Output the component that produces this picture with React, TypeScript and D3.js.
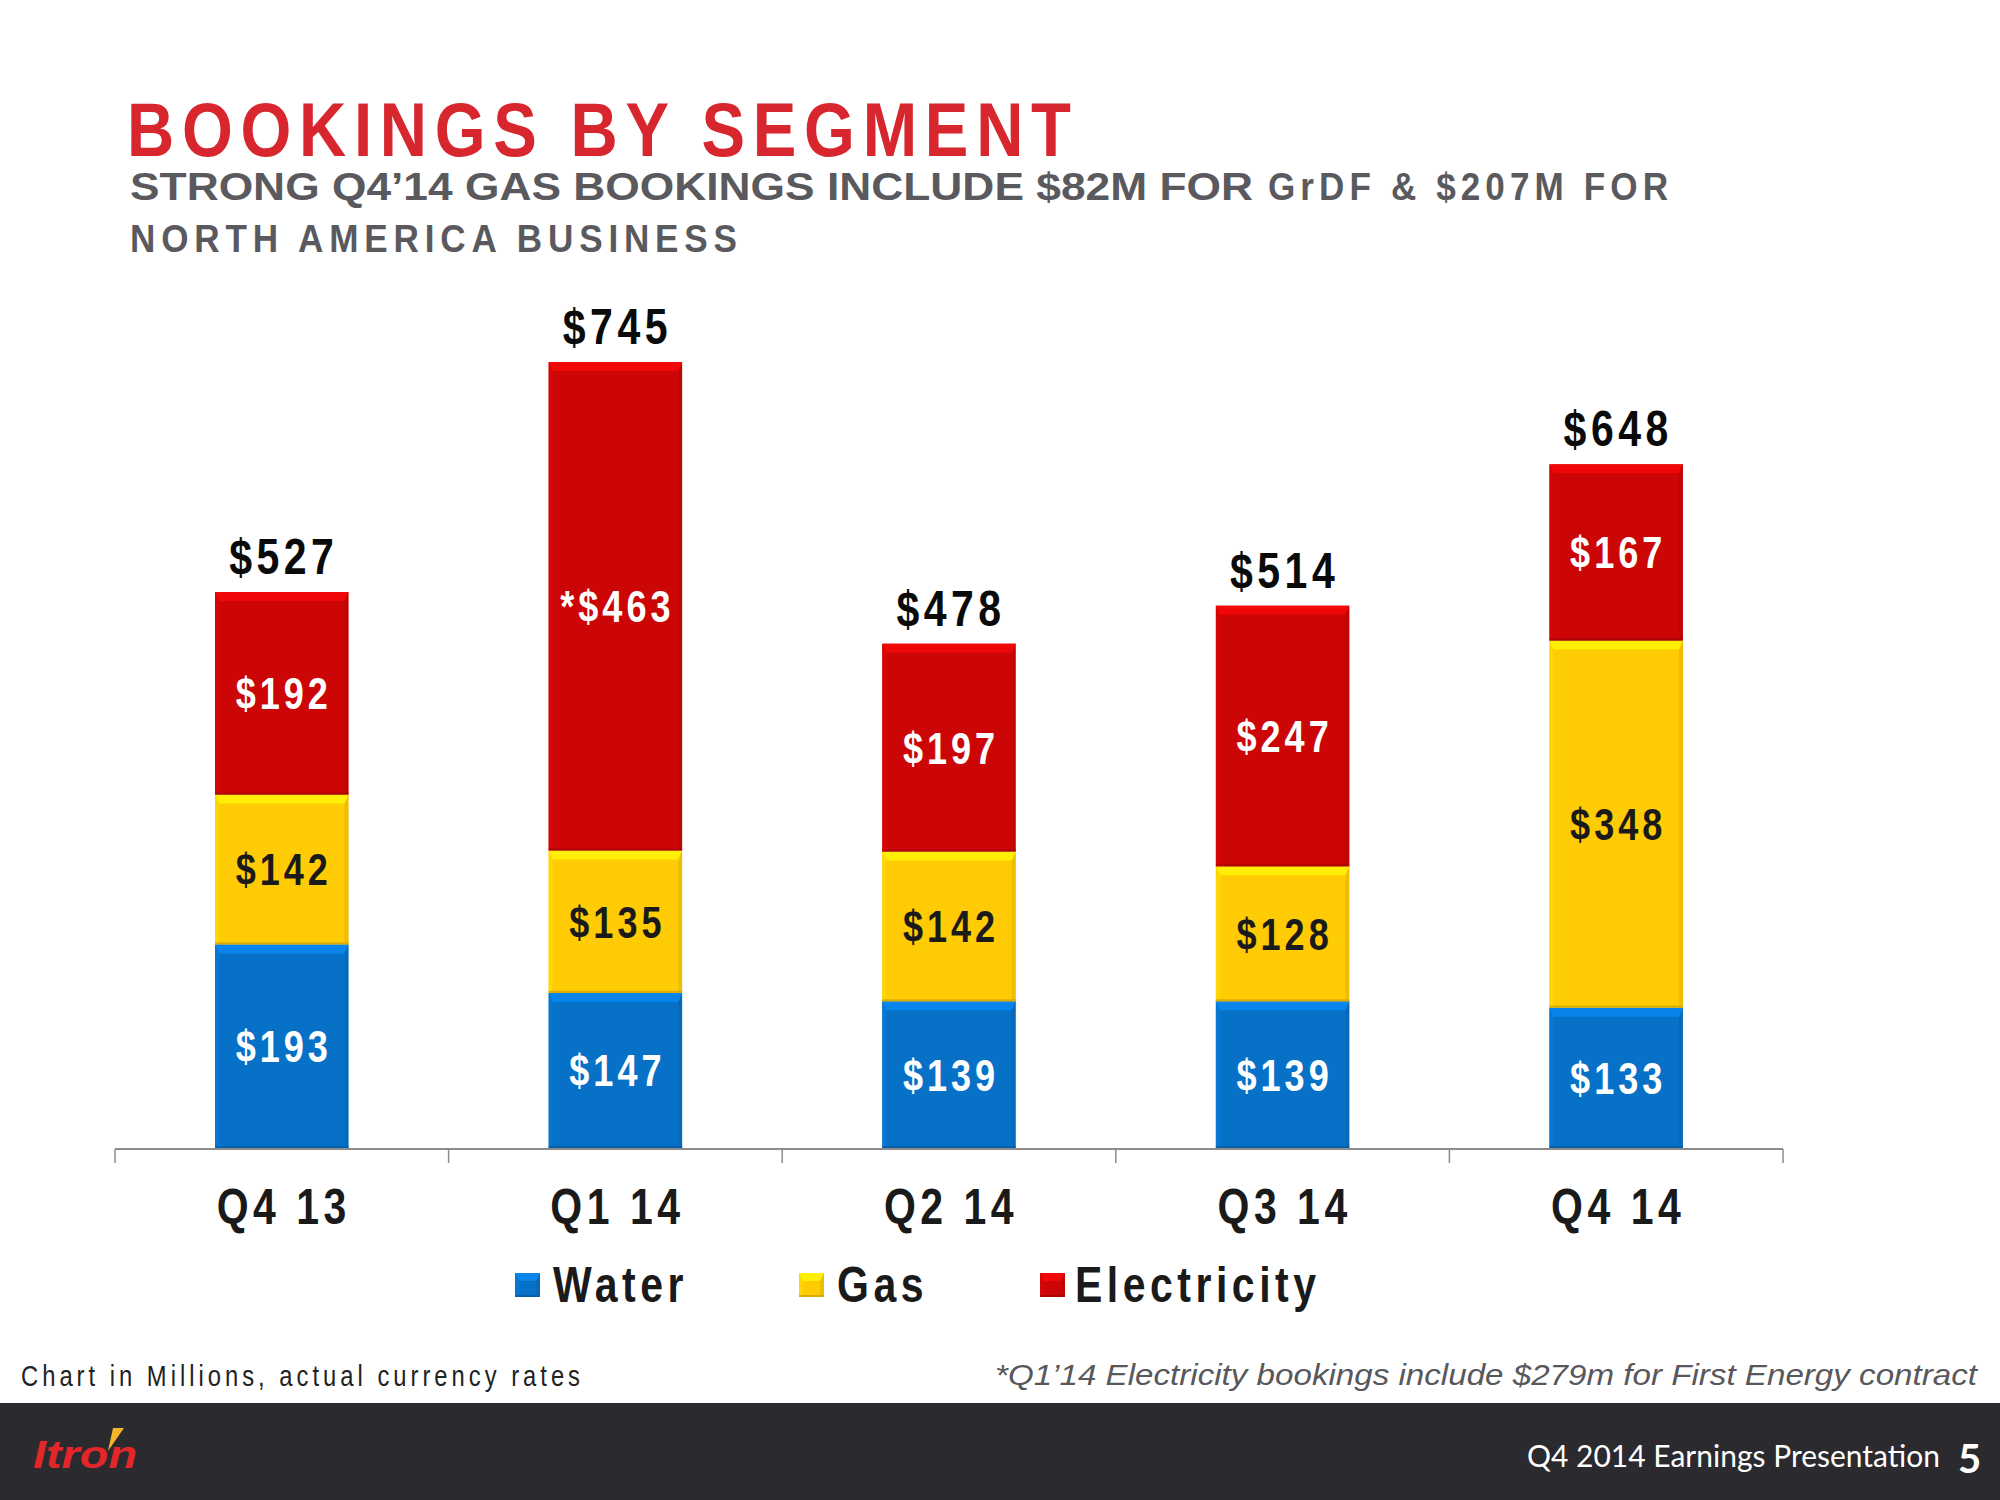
import React from "react";
import * as d3 from "d3";

const categories = ["Q4 13", "Q1 14", "Q2 14", "Q3 14", "Q4 14"];
const water = [193, 147, 139, 139, 133];
const gas = [142, 135, 142, 128, 348];
const electricity = [192, 463, 197, 247, 167];
const electricityLabels = ["$192", "*$463", "$197", "$247", "$167"];
const seriesKeys = ["water", "gas", "electricity"];
const seriesNames = ["Water", "Gas", "Electricity"];
const seriesColors = ["#0771c8", "#ffcb05", "#cc0606"];

const ARIAL = "'Liberation Sans', Arial, sans-serif";
const K = 0.82; // horizontal condensing to emulate Arial Narrow

function NT(props: {
  x: number; y: number; size: number; fill: string; children: any;
  anchor?: string; bold?: boolean; ls?: number; len?: number; italic?: boolean; k?: number;
}) {
  const { x, y, size, fill, children, anchor, bold, ls, len, italic } = props;
  const k = props.k || K;
  return (
    <text
      transform={`translate(${x},${y}) scale(${k},1)`}
      textAnchor={anchor || "start"}
      fontFamily={ARIAL}
      fontWeight={bold ? "bold" : "normal"}
      fontStyle={italic ? "italic" : "normal"}
      fontSize={size}
      letterSpacing={ls ? ls / k : undefined}
      textLength={len ? len / k : undefined}
      lengthAdjust={len ? "spacing" : undefined}
      fill={fill}
    >
      {children}
    </text>
  );
}

function Bevel({ x, y, w, h, color }: { x: number; y: number; w: number; h: number; color: string }) {
  const c = d3.color(color)!;
  const light = c.brighter(0.45).formatHex();
  const side = c.brighter(0.15).formatHex();
  const dark = c.darker(0.6).formatHex();
  const b = Math.min(9, h / 3);
  const s = Math.min(4, w / 6);
  return (
    <g>
      <rect x={x} y={y} width={w} height={h} fill={color} />
      <polygon points={`${x},${y} ${x + s},${y + b} ${x + s},${y + h - 2} ${x},${y + h}`} fill={side} />
      <polygon points={`${x + w},${y} ${x + w - s},${y + b} ${x + w - s},${y + h - 2} ${x + w},${y + h}`} fill={dark} opacity={0.35} />
      <polygon points={`${x},${y} ${x + w},${y} ${x + w - s},${y + b} ${x + s},${y + b}`} fill={light} />
      <rect x={x} y={y + h - 2} width={w} height={2} fill={dark} opacity={0.8} />
    </g>
  );
}

export default function App() {
  const W = 2000, H = 1500;
  const baseY = 1148;
  const x = d3.scaleBand<string>().domain(categories).range([115, 1783]).paddingInner(0.6).paddingOuter(0.3);
  const y = d3.scaleLinear().domain([0, 800]).range([baseY, baseY - 800 * 1.055]);
  const rows = categories.map((c, i) => ({ cat: c, water: water[i], gas: gas[i], electricity: electricity[i] }));
  const stacked = d3.stack<any>().keys(seriesKeys)(rows);
  const totals = categories.map((_, i) => water[i] + gas[i] + electricity[i]);
  const step = x.step();
  const gapHalf = (step - x.bandwidth()) / 2;
  const edges = categories.map((c) => (x(c) as number) - gapHalf);
  edges.push(edges[edges.length - 1] + step);

  const legendItems = [
    { sx: 515, tx: 553 },
    { sx: 799, tx: 837 },
    { sx: 1040, tx: 1075 },
  ];

  return (
    <div style={{ position: "absolute", left: 0, top: 0 }}>
      <svg width={W} height={H} viewBox={`0 0 ${W} ${H}`} style={{ display: "block", background: "#fff" }}>
        <rect x={0} y={0} width={W} height={H} fill="#ffffff" />
        {/* Title */}
        <NT x={127} y={156} size={76} bold fill="#d7262d" len={944} k={0.86}>BOOKINGS BY SEGMENT</NT>
        <text x={130} y={200} fontFamily={ARIAL} fontWeight="bold" fontSize={38} fill="#5a5a5e"
          textLength={1123} lengthAdjust="spacingAndGlyphs">STRONG Q4’14 GAS BOOKINGS INCLUDE $82M FOR</text>
        <NT x={1268} y={200} size={39} bold fill="#5a5a5e" len={400} k={0.9}>GrDF &amp; $207M FOR</NT>
        <NT x={130} y={252} size={39} bold fill="#5a5a5e" len={607} k={0.9}>NORTH AMERICA BUSINESS</NT>

        {/* Bars */}
        {stacked.map((s, si) => (
          <g key={s.key}>
            {s.map((d, i) => {
              const bx = x(categories[i]) as number;
              const y0 = y(d[1]);
              const h = y(d[0]) - y(d[1]);
              return <Bevel key={i} x={bx} y={y0} w={x.bandwidth()} h={h} color={seriesColors[si]} />;
            })}
          </g>
        ))}
        {/* Segment labels */}
        {stacked.map((s, si) => (
          <g key={"l" + s.key}>
            {s.map((d, i) => {
              const cx = (x(categories[i]) as number) + x.bandwidth() / 2;
              const cy = (y(d[0]) + y(d[1])) / 2;
              const v = d[1] - d[0];
              const label = si === 2 ? electricityLabels[i] : `$${v}`;
              const color = si === 1 ? "#1a1a1a" : "#ffffff";
              return (
                <NT key={i} x={cx + 2} y={cy + 16} anchor="middle" bold size={44} ls={4} fill={color}>{label}</NT>
              );
            })}
          </g>
        ))}
        {/* Totals */}
        {totals.map((t, i) => (
          <NT key={"t" + i} x={(x(categories[i]) as number) + x.bandwidth() / 2 + 2} y={y(t) - 18}
            anchor="middle" bold size={50} ls={4.5} fill="#0a0a0a">
            {`$${t}`}
          </NT>
        ))}

        {/* Axis */}
        <line x1={edges[0]} x2={edges[edges.length - 1]} y1={baseY + 1} y2={baseY + 1} stroke="#8c8c8c" strokeWidth={2} />
        {edges.map((e, i) => (
          <line key={"tk" + i} x1={e} x2={e} y1={baseY + 1} y2={baseY + 15} stroke="#8c8c8c" strokeWidth={1.5} />
        ))}
        {categories.map((c) => (
          <NT key={"c" + c} x={(x(c) as number) + x.bandwidth() / 2 + 2} y={1224} anchor="middle"
            bold size={50} ls={4.5} fill="#1a1a1a">{c}</NT>
        ))}

        {/* Legend */}
        {seriesNames.map((n, i) => (
          <g key={"lg" + n}>
            <Bevel x={legendItems[i].sx} y={1273} w={25} h={24} color={seriesColors[i]} />
            <NT x={legendItems[i].tx} y={1302} bold size={50} ls={4.5} fill="#1a1a1a">{n}</NT>
          </g>
        ))}

        {/* Footnotes */}
        <NT x={21} y={1386} size={29} fill="#222" len={559}>Chart in Millions, actual currency rates</NT>
        <text x={995} y={1385} fontFamily={ARIAL} fontStyle="italic" fontSize={30} fill="#58585c"
          textLength={982} lengthAdjust="spacingAndGlyphs">
          *Q1’14 Electricity bookings include $279m for First Energy contract
        </text>

        {/* Footer bar */}
        <rect x={0} y={1403} width={W} height={H - 1403} fill="#2b2b2f" />
        <text x={33} y={1468} fontFamily={ARIAL} fontWeight="bold" fontStyle="italic" fontSize={39} fill="#e3262a"
          textLength={104} lengthAdjust="spacingAndGlyphs">Itron</text>
        <polygon points="113,1428 124,1428 108,1451" fill="#f5b52a" />
        <text x={1527} y={1467} fontFamily="Lato, 'Open Sans', sans-serif" fontSize={31} fill="#ffffff"
          textLength={413} lengthAdjust="spacingAndGlyphs">Q4 2014 Earnings Presentation</text>
        <text x={1958} y={1473} fontFamily="Lato, 'Open Sans', sans-serif" fontWeight="bold" fontSize={40} fill="#ffffff">5</text>
      </svg>
    </div>
  );
}
